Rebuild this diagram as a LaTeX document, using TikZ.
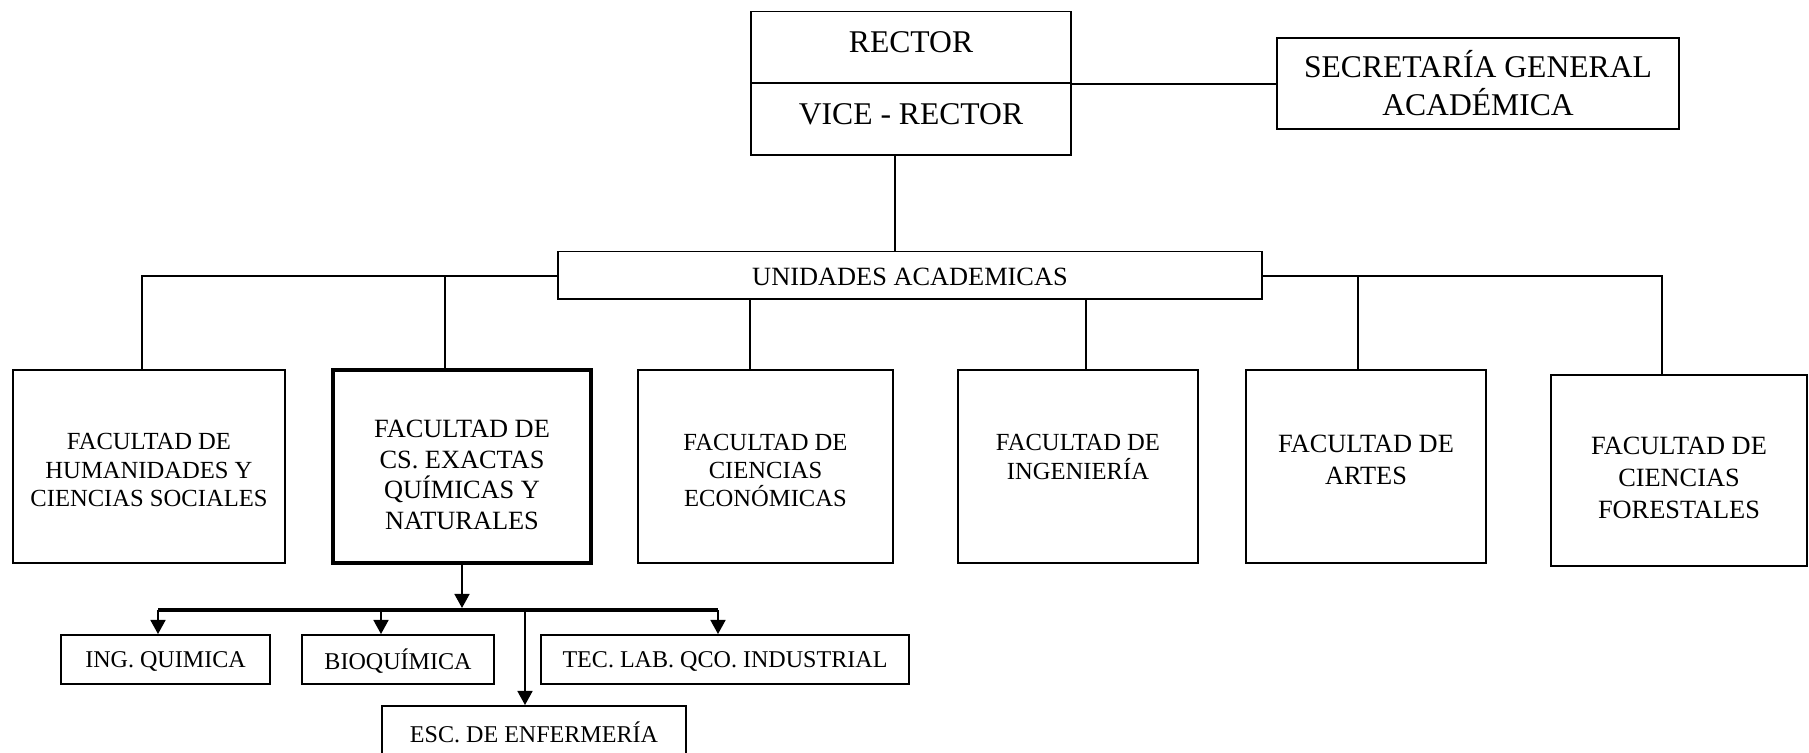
\documentclass[tikz,border=0pt]{standalone}
\usepackage{fontspec}
\setmainfont{Liberation Serif}
\usetikzlibrary{arrows.meta}
\begin{document}
\begin{tikzpicture}[x=0.02cm,y=-0.02cm,
  box/.style={draw,line width=1.1pt,rectangle,inner sep=0pt,align=center},
  thickbox/.style={box,line width=2.3pt},
  conn/.style={line width=1.1pt},
  bar/.style={line width=2.3pt},
  arr/.style={line width=1.1pt,-{Triangle[length=8pt,width=8.5pt]}},
  txt/.style={align=center,inner sep=0pt},
  big/.style={font=\fontsize{18}{21.5}\selectfont},
  mid/.style={font=\fontsize{15}{17.5}\selectfont},
  sml/.style={font=\fontsize{14}{16}\selectfont},
  tiny/.style={font=\fontsize{13.7}{15.5}\selectfont}]
\clip (0,0) rectangle (1809,753);
\fill[white] (0,0) rectangle (1809,753);

% top
\node[box,minimum width=6.4cm,minimum height=1.43cm] (rector) at (911,47.25) {};
\node[box,minimum width=6.4cm,minimum height=1.44cm] (vice) at (911,119) {};
\node[box,minimum width=8.04cm,minimum height=1.82cm] (sec) at (1478,83.5) {};
\node[txt,big] (rectort) at (911,42) {RECTOR};
\node[txt,big] (vicet) at (911,114) {VICE - RECTOR};
\node[txt,big] (sect) at (1478,83) {SECRETARÍA GENERAL\\ACADÉMICA};
\node[box,minimum width=14.08cm,minimum height=0.95cm] (uni) at (910,275.25) {};
\node[txt,mid] (unit) at (910,277) {UNIDADES ACADEMICAS};

% faculties
\node[box,minimum width=5.44cm,minimum height=3.86cm] (hum) at (149,466.5) {};
\node[thickbox,minimum width=5.16cm,minimum height=3.86cm] (exa) at (462,466.5) {};
\node[box,minimum width=5.1cm,minimum height=3.86cm] (eco) at (765.5,466.5) {};
\node[box,minimum width=4.8cm,minimum height=3.86cm] (ing) at (1078,466.5) {};
\node[box,minimum width=4.8cm,minimum height=3.86cm] (art) at (1366,466.5) {};
\node[box,minimum width=5.12cm,minimum height=3.82cm] (for) at (1679,470.5) {};

\node[txt,sml] (humt) at (149,470) {FACULTAD DE\\HUMANIDADES Y\\CIENCIAS SOCIALES};
\node[txt,font=\fontsize{15}{17.5}\selectfont] (exat) at (462,475) {FACULTAD DE\\CS. EXACTAS\\QUÍMICAS Y\\NATURALES};
\node[txt,font=\fontsize{14}{15.8}\selectfont] (ecot) at (765.5,470.5) {FACULTAD DE\\CIENCIAS\\ECONÓMICAS};
\node[txt,sml] (ingt) at (1078,457) {FACULTAD DE\\INGENIERÍA};
\node[txt,font=\fontsize{15}{18.5}\selectfont] (artt) at (1366,460) {FACULTAD DE\\ARTES};
\node[txt,font=\fontsize{15}{18}\selectfont] (fort) at (1679,478) {FACULTAD DE\\CIENCIAS\\FORESTALES};

% sub units
\node[box,minimum width=4.18cm,minimum height=0.98cm] (ingq) at (165.5,659.5) {};
\node[box,minimum width=3.84cm,minimum height=0.98cm] (bioq) at (398,659.5) {};
\node[box,minimum width=7.36cm,minimum height=0.98cm] (tec) at (725,659.5) {};
\node[box,minimum width=6.08cm,minimum height=1.0cm] (esc) at (534,731) {};
\node[txt,tiny] (ingqt) at (165.5,661) {ING. QUIMICA};
\node[txt,tiny] (bioqt) at (398,661) {BIOQUÍMICA};
\node[txt,tiny] (tect) at (725,661) {TEC. LAB. QCO. INDUSTRIAL};
\node[txt,tiny] (esct) at (534,732) {ESC. DE ENFERMERÍA};

% connectors top
\draw[conn] (rector.south east) -- (sec.west |- rector.south east);
\coordinate (vd) at (895,0);
\draw[conn] (vice.south -| vd) -- (uni.north -| vd);

\coordinate (dh) at (142,276);
\coordinate (dx) at (445,276);
\coordinate (de) at (750,276);
\coordinate (di) at (1086,276);
\coordinate (da) at (1358,276);
\coordinate (df) at (1662,276);
\draw[conn] (uni.west |- dh) -- (dh) -- (dh |- hum.north);
\draw[conn] (dx) -- (dx |- exa.north);
\draw[conn] (uni.south -| de) -- (de |- eco.north);
\draw[conn] (uni.south -| di) -- (di |- ing.north);
\draw[conn] (uni.east |- df) -- (df) -- (df |- for.north);
\draw[conn] (da) -- (da |- art.north);

% connectors bottom
\coordinate (bl) at (158,610);
\coordinate (bb) at (381,610);
\coordinate (be) at (525,610);
\coordinate (br) at (718,610);
\coordinate (bt) at (158,608);
\draw[arr] (exa.south) -- (exa.south |- bt);
\draw[bar] (bl) -- (br);
\draw[arr] (bl) -- (bl |- ingq.north);
\draw[arr] (bb) -- (bb |- bioq.north);
\draw[arr] (br) -- (br |- tec.north);
\draw[arr] (be) -- (be |- esc.north);
\end{tikzpicture}
\end{document}
